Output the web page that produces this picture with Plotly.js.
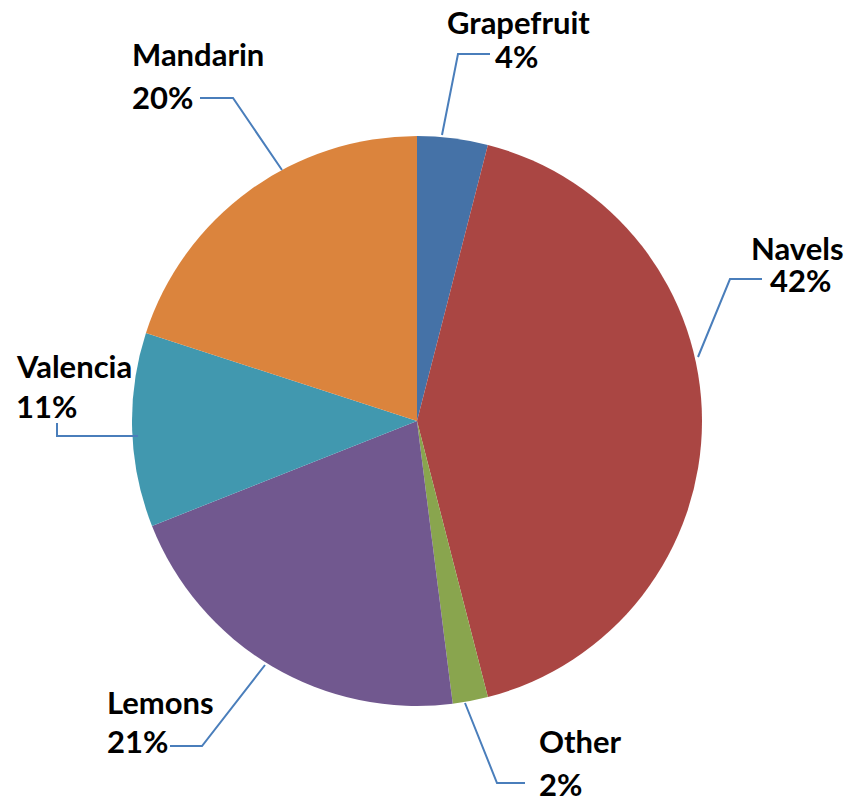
<!DOCTYPE html>
<html>
<head>
<meta charset="utf-8">
<script src="https://cdn.plot.ly/plotly-3.0.1.min.js"></script>
<style>html,body{margin:0;padding:0;background:#fff;}#chart{width:850px;height:797px;}</style>
</head>
<body>
<div id="chart"></div>
<script>
// ---- data ----
var categories = ["Grapefruit", "Navels", "Other", "Lemons", "Valencia", "Mandarin"];
var shares = [4, 42, 2, 21, 11, 20];
var sliceColors = ["#4572A7", "#AA4643", "#89A54E", "#71588F", "#4198AF", "#DB843D"];

// ---- label layout (pixel positions, style only) ----
var W = 850, H = 797;
function px(x) { return x / W; }
function py(y) { return 1 - y / H; }
var labelLayout = [
  {name: {x: 518, y: 22}, pct: {x: 516, y: 56}, anchor: "center",
   line: [[442,135],[458,54],[490,54]]},
  {name: {x: 797, y: 248}, pct: {x: 800, y: 280}, anchor: "center",
   line: [[698,357],[730,279],[762,279]]},
  {name: {x: 537, y: 741}, pct: {x: 537, y: 784}, anchor: "left",
   line: [[465,703],[497,783],[525,783]]},
  {name: {x: 105, y: 702}, pct: {x: 105, y: 741}, anchor: "left",
   line: [[265,665],[202,746],[170,746]]},
  {name: {x: 14, y: 366}, pct: {x: 14, y: 406}, anchor: "left",
   line: [[138,436],[57,436],[57,423]]},
  {name: {x: 130, y: 54}, pct: {x: 130, y: 97}, anchor: "left",
   line: [[282,170],[233,98],[200,98]]}
];

var total = shares.reduce(function(a, b) { return a + b; }, 0);
var annotations = [], shapes = [];
var fnt = {family: "Lato, 'Open Sans', sans-serif", size: 31, color: "#000"};
categories.forEach(function(c, i) {
  var L = labelLayout[i];
  var pctText = Math.round(shares[i] / total * 100) + "%";
  annotations.push({xref: "paper", yref: "paper", x: px(L.name.x), y: py(L.name.y),
    xanchor: L.anchor, yanchor: "middle", text: "<b>" + c + "</b>", showarrow: false, font: fnt});
  annotations.push({xref: "paper", yref: "paper", x: px(L.pct.x), y: py(L.pct.y),
    xanchor: L.anchor, yanchor: "middle", text: "<b>" + pctText + "</b>", showarrow: false, font: fnt});
  var p = L.line.map(function(pt, k) { return (k ? "L" : "M") + px(pt[0]) + "," + py(pt[1]); }).join(" ");
  shapes.push({type: "path", xref: "paper", yref: "paper", path: p,
    line: {color: "#4A7EBB", width: 2}});
});

var trace = {
  type: "pie",
  labels: categories,
  values: shares,
  sort: false,
  direction: "clockwise",
  rotation: 0,
  textinfo: "none",
  hoverinfo: "none",
  marker: {colors: sliceColors, line: {width: 0}},
  domain: {x: [px(417 - 285), px(417 + 285)], y: [py(706), py(136)]},
  showlegend: false
};

var layout = {
  width: W, height: H,
  margin: {l: 0, r: 0, t: 0, b: 0},
  paper_bgcolor: "#fff",
  showlegend: false,
  annotations: annotations,
  shapes: shapes
};
Plotly.newPlot("chart", [trace], layout, {displayModeBar: false, staticPlot: true});
</script>
</body>
</html>
